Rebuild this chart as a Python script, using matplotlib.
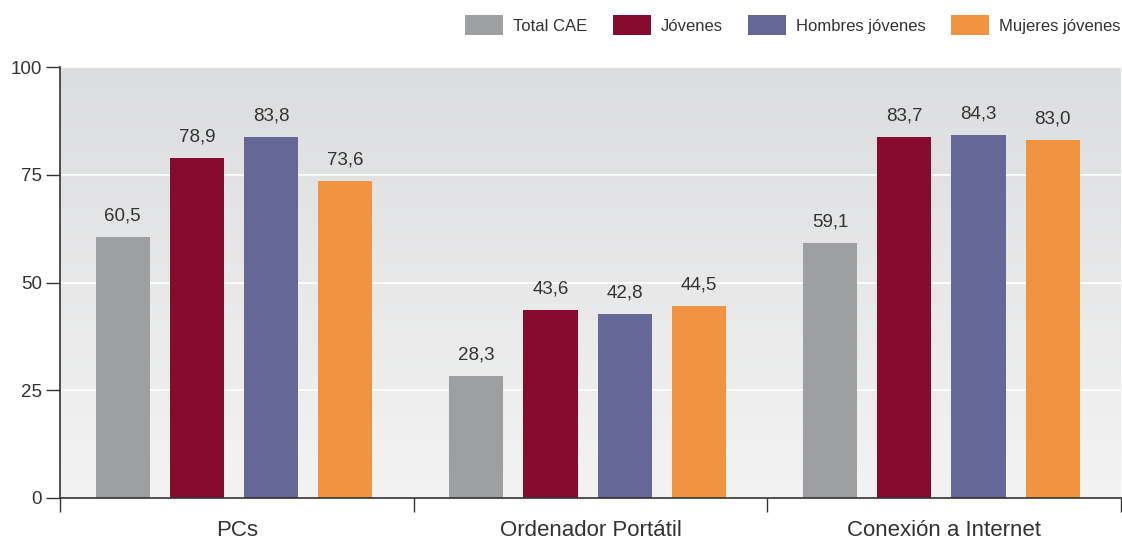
import numpy as np
import matplotlib
matplotlib.use("Agg")
import matplotlib.pyplot as plt
from matplotlib.colors import LinearSegmentedColormap

categories = ["PCs", "Ordenador Portátil", "Conexión a Internet"]
series = ["Total CAE", "Jóvenes", "Hombres jóvenes", "Mujeres jóvenes"]
total_cae = [60.5, 28.3, 59.1]
jovenes = [78.9, 43.6, 83.7]
hombres = [83.8, 42.8, 84.3]
mujeres = [73.6, 44.5, 83.0]
values = [total_cae, jovenes, hombres, mujeres]
colors = ["#9e9fa1", "#870b2f", "#656797", "#f09442"]
yticks = [0, 25, 50, 75, 100]

plt.rcParams["font.family"] = ["Liberation Sans", "DejaVu Sans"]
txt = "#333333"

fig = plt.figure(figsize=(11.22, 5.45), dpi=100)
ax = fig.add_axes([60 / 1122, 47 / 545, 1061 / 1122, 431 / 545])

# background gradient (dark top -> light bottom)
grad = np.linspace(0, 1, 256).reshape(-1, 1)
cmap = LinearSegmentedColormap.from_list("bg", ["#dcdddf", "#f3f3f3"])
ax.imshow(grad, cmap=cmap, aspect="auto", extent=[0, 1, 0, 1],
          transform=ax.transAxes, zorder=0)

x = np.arange(len(categories)) + 0.5
step = 0.21
width = 0.153
for i, (vals, col, name) in enumerate(zip(values, colors, series)):
    pos = x + (i - 1.5) * step - 0.008
    bars = ax.bar(pos, vals, width=width, color=col, label=name, zorder=3)
    for b, v in zip(bars, vals):
        ax.annotate(f"{v:.1f}".replace(".", ","), (b.get_x() + b.get_width() / 2, v),
                    xytext=(0, 9), textcoords="offset points", ha="center",
                    va="bottom", fontsize=13.5, color=txt, zorder=4)

ax.set_xlim(0, 3)
ax.set_ylim(0, 100)
ax.set_yticks(yticks)
ax.yaxis.grid(True, color="white", linewidth=1.2, zorder=1)
ax.set_axisbelow(True)

ax.set_xticks([0, 1, 2, 3])
ax.set_xticklabels([])
ax.set_xticks(x, minor=True)
ax.set_xticklabels(categories, minor=True, fontsize=16, color=txt)
ax.tick_params(axis="x", which="minor", length=0, pad=16)
ax.tick_params(axis="x", which="major", length=10, width=1, color="#333333")
ax.tick_params(axis="y", length=10, width=1, color="#333333", labelsize=13.5,
               labelcolor=txt, pad=3)

for s in ["top", "right"]:
    ax.spines[s].set_visible(False)
for s in ["left", "bottom"]:
    ax.spines[s].set_color("#333333")
    ax.spines[s].set_linewidth(1.2)
    ax.spines[s].set_zorder(5)

handles, labels = ax.get_legend_handles_labels()
leg = fig.legend(handles, labels, loc="center right", bbox_to_anchor=(0.999, 1 - 25 / 545),
                 ncol=4, frameon=False, fontsize=12, handlelength=2.3,
                 handleheight=1.4, handletextpad=0.6, columnspacing=1.5,
                 borderpad=0, borderaxespad=0)
for t in leg.get_texts():
    t.set_color(txt)

fig.savefig("out.png", dpi=100)
